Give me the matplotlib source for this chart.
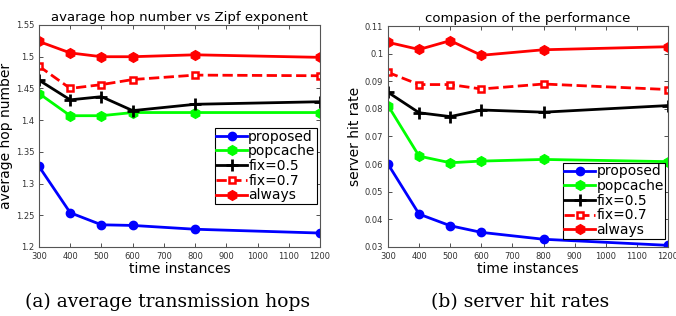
import numpy as np
import matplotlib as mpl
mpl.use('Agg')
import matplotlib.pyplot as plt

# data
time_instances = [300, 400, 500, 600, 800, 1200]
series_names = ["proposed", "popcache", "fix=0.5", "fix=0.7", "always"]

hops_proposed = [1.327, 1.254, 1.235, 1.234, 1.228, 1.222]
hops_popcache = [1.442, 1.407, 1.407, 1.412, 1.412, 1.412]
hops_fix05 = [1.463, 1.432, 1.437, 1.415, 1.425, 1.429]
hops_fix07 = [1.485, 1.450, 1.456, 1.464, 1.471, 1.470]
hops_always = [1.524, 1.506, 1.500, 1.500, 1.503, 1.499]

hit_proposed = [0.0600, 0.0419, 0.0377, 0.0353, 0.0328, 0.0306]
hit_popcache = [0.0812, 0.0629, 0.0605, 0.0611, 0.0617, 0.0609]
hit_fix05 = [0.0860, 0.0786, 0.0772, 0.0796, 0.0788, 0.0812]
hit_fix07 = [0.0932, 0.0888, 0.0888, 0.0872, 0.0890, 0.0870]
hit_always = [0.1041, 0.1015, 0.1047, 0.0994, 0.1014, 0.1025]

hop_ticks = [1.2, 1.25, 1.3, 1.35, 1.4, 1.45, 1.5, 1.55]
hop_ticklabels = ["1.2", "1.25", "1.3", "1.35", "1.4", "1.45", "1.5", "1.55"]
hit_ticks = [0.03, 0.04, 0.05, 0.06, 0.07, 0.08, 0.09, 0.1, 0.11]
hit_ticklabels = ["0.03", "0.04", "0.05", "0.06", "0.07", "0.08", "0.09", "0.1", "0.11"]
x_ticks = [300, 400, 500, 600, 700, 800, 900, 1000, 1100, 1200]

styles = [
    dict(color="#0000ff", linestyle="-", marker="o", markersize=6),
    dict(color="#00ff00", linestyle="-", marker="h", markersize=7),
    dict(color="black", linestyle="-", marker="+", markersize=8, markeredgewidth=2),
    dict(color="#ff0000", linestyle="--", marker="s", markersize=5,
         markerfacecolor="white", markeredgewidth=1.8),
    dict(color="#ff0000", linestyle="-", marker="h", markersize=7),
]


def draw_panel(ax, ys, title, ylabel, ticks, ticklabels, ylim, legend_box):
    for y, name, st in zip(ys, series_names, styles):
        ax.plot(time_instances, y, linewidth=2, label=name, **st)
    ax.set_xlim(300, 1200)
    ax.set_ylim(ylim)
    ax.set_xticks(x_ticks)
    ax.set_yticks(ticks)
    ax.set_yticklabels(ticklabels)
    ax.tick_params(direction="in", labelsize=6, top=True, right=True,
                   length=3, width=0.6, colors="#333333", labelcolor="#333333")
    for sp in ax.spines.values():
        sp.set_color("#555555")
        sp.set_linewidth(0.8)
    ax.set_title(title, fontsize=9.5, pad=3)
    ax.set_xlabel("time instances", fontsize=10, labelpad=1)
    ax.set_ylabel(ylabel, fontsize=10, labelpad=2)
    leg = ax.legend(loc="upper left", bbox_to_anchor=legend_box,
                    fontsize=10, handlelength=2.2, handletextpad=0.1,
                    borderpad=0.1, labelspacing=0.05, borderaxespad=0,
                    fancybox=False, framealpha=1)
    leg.get_frame().set_edgecolor("black")
    leg.get_frame().set_linewidth(0.8)


fig = plt.figure(figsize=(6.76, 3.16), dpi=100)
ax1 = fig.add_axes([39 / 676, 1 - 247 / 316, 281 / 676, 222 / 316])
ax2 = fig.add_axes([388 / 676, 1 - 247 / 316, 280 / 676, 221 / 316])

draw_panel(ax1, [hops_proposed, hops_popcache, hops_fix05, hops_fix07, hops_always],
           "avarage hop number vs Zipf exponent", "average hop number",
           hop_ticks, hop_ticklabels, (1.2, 1.55), (0.626, 0.535))
draw_panel(ax2, [hit_proposed, hit_popcache, hit_fix05, hit_fix07, hit_always],
           "compasion of the performance", "server hit rate",
           hit_ticks, hit_ticklabels, (0.03, 0.11), (0.625, 0.38))

fig.text(168 / 676, 1 - 302 / 316, "(a) average transmission hops",
         ha="center", va="center", fontsize=13.5, family="DejaVu Serif")
fig.text(520 / 676, 1 - 302 / 316, "(b) server hit rates",
         ha="center", va="center", fontsize=13.5, family="DejaVu Serif")

fig.savefig("out.png", dpi=100)
plt.close(fig)
